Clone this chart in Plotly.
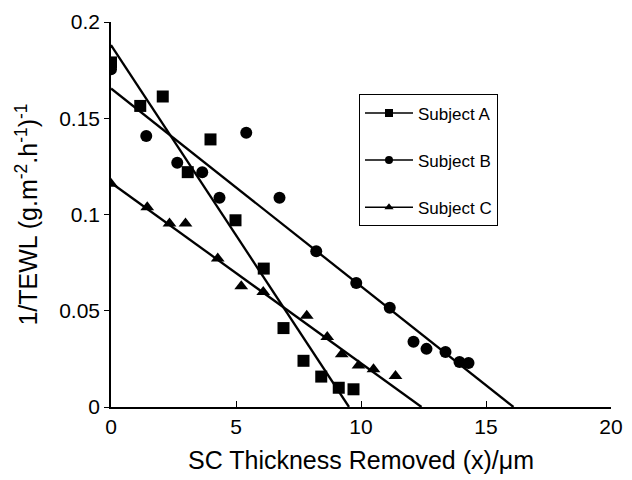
import plotly.graph_objects as go

subjects = ["Subject A", "Subject B", "Subject C"]
symbols = ["square", "circle", "triangle-up"]

a_x = [0.0, 1.17, 2.07, 3.07, 3.98, 4.98, 6.11, 6.9, 7.7, 8.41, 9.11, 9.7]
a_y = [0.179, 0.1564, 0.1613, 0.122, 0.139, 0.097, 0.0719, 0.041, 0.024, 0.0158, 0.010, 0.0092]
b_x = [0.0, 1.41, 2.65, 3.65, 4.34, 5.41, 6.74, 8.21, 9.81, 11.15, 12.1, 12.62, 13.38, 13.94, 14.3]
b_y = [0.1755, 0.1408, 0.1269, 0.122, 0.1087, 0.1425, 0.1087, 0.0809, 0.0644, 0.0515, 0.0339, 0.0302, 0.0286, 0.0234, 0.0229]
c_x = [0.0, 1.45, 2.34, 2.98, 4.27, 5.21, 6.09, 7.83, 8.65, 9.23, 9.9, 10.5, 11.38]
c_y = [0.116, 0.1038, 0.0953, 0.0953, 0.0771, 0.0627, 0.0597, 0.0474, 0.0363, 0.0274, 0.0215, 0.0196, 0.0161]

# fitted lines: value at x=0 and x where the line reaches 0
fit_y0 = [0.188, 0.1655, 0.1165]
fit_x0 = [9.52, 16.1, 12.42]

x_ticks = [0, 5, 10, 15, 20]
y_ticks = [0, 0.05, 0.1, 0.15, 0.2]
y_ticklabels = ["0", "0.05", "0.1", "0.15", "0.2"]

FONT = "Liberation Sans, Arial, Helvetica, sans-serif"
fig = go.Figure()

series = [(a_x, a_y), (b_x, b_y), (c_x, c_y)]
sizes = [12, 12, 12]
for i, (xs, ys) in enumerate(series):
    fig.add_trace(go.Scatter(
        x=[0, fit_x0[i]], y=[fit_y0[i], 0], mode="lines",
        line=dict(color="black", width=2.3), showlegend=False, hoverinfo="skip"))
    fig.add_trace(go.Scatter(
        x=xs, y=ys, mode="markers",
        marker=dict(symbol=symbols[i], size=sizes[i], color="black"),
        showlegend=False, name=subjects[i]))

for i, name in enumerate(subjects):
    fig.add_trace(go.Scatter(
        x=[None], y=[None], mode="lines+markers", name=name,
        legendgroup=name,
        line=dict(color="black", width=1.5),
        marker=dict(symbol=symbols[i], size=8, color="black")))

fig.update_layout(
    width=632, height=480,
    margin=dict(l=103, r=29, t=14, b=81),
    paper_bgcolor="white", plot_bgcolor="white",
    font=dict(family=FONT, color="black", size=18),
    showlegend=True,
    legend=dict(x=0.496, y=0.812, xanchor="left", yanchor="top",
                bordercolor="black", borderwidth=1, bgcolor="white",
                font=dict(size=17), tracegroupgap=22, itemwidth=48,
                traceorder="grouped"),
    xaxis=dict(range=[0, 20], tickvals=x_ticks, ticks="inside", ticklen=6,
               tickcolor="black", showline=True, linecolor="black", linewidth=1.5,
               showgrid=False, zeroline=False, tickfont=dict(size=21),
               automargin=False,
               title=dict(text="SC Thickness Removed (x)/\u03bcm", font=dict(size=25), standoff=15)),
    yaxis=dict(range=[0, 0.2], tickvals=y_ticks, ticktext=y_ticklabels,
               ticks="outside", ticklen=5, tickcolor="black",
               showline=True, linecolor="black", linewidth=1.5,
               showgrid=False, zeroline=False, tickfont=dict(size=21),
               automargin=False,
               title=dict(text="1/TEWL (g.m<sup>-2</sup>.h<sup>-1</sup>)<sup>-1</sup>",
                          font=dict(size=25), standoff=14)),
)

fig.write_html("out.html")
